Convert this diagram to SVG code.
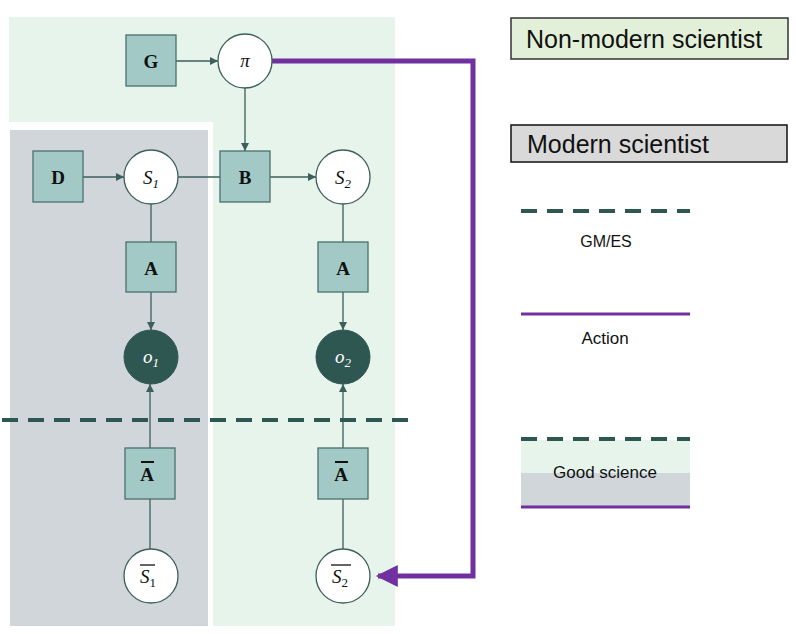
<svg xmlns="http://www.w3.org/2000/svg" width="796" height="634" viewBox="0 0 796 634">
<defs>
<style>
.sq{fill:#a3c9c7;stroke:#4a706c;stroke-width:1.3}
.ci{fill:#fff;stroke:#3d5f5b;stroke-width:1.3}
.ob{fill:#2f5752;stroke:#2f5752}
.ed{stroke:#3d5f5b;stroke-width:1.3;fill:none}
.bl{font-family:"Liberation Serif",serif;font-weight:bold;font-size:19px;text-anchor:middle;fill:#111}
.it{font-family:"Liberation Serif",serif;font-style:italic;font-size:19px;text-anchor:middle;fill:#111}
.lg{font-family:"Liberation Sans",Arial,sans-serif;fill:#111}
.ds{stroke:#2f5752;stroke-width:4;stroke-dasharray:16 10;fill:none}
</style>
<marker id="ar" viewBox="0 0 10 10" refX="10" refY="5" markerWidth="8" markerHeight="8" markerUnits="userSpaceOnUse" orient="auto"><path d="M0,0L10,5L0,10z" fill="#3d5f5b"/></marker>
<marker id="pa" viewBox="0 0 10 10" refX="9" refY="5" markerWidth="6" markerHeight="4.4" orient="auto"><path d="M0,0L10,5L0,10z" fill="#7030a0"/></marker>
</defs>
<g id="backgrounds">
<rect x="9" y="17" width="386" height="609" fill="#e6f4ec"/>
<rect x="9" y="122" width="204" height="504" fill="#fff"/>
<rect x="10" y="130" width="198" height="496" fill="#d1d6da"/>
</g>
<g id="connectors">
<line class="ed" x1="176" y1="61" x2="218" y2="61" marker-end="url(#ar)"/>
<line class="ed" x1="245" y1="88" x2="245" y2="151" marker-end="url(#ar)"/>
<line class="ed" x1="83" y1="177" x2="124" y2="177" marker-end="url(#ar)"/>
<line class="ed" x1="178" y1="177" x2="220" y2="177"/>
<line class="ed" x1="270" y1="177" x2="316" y2="177" marker-end="url(#ar)"/>
<line class="ed" x1="151" y1="204" x2="151" y2="242"/>
<line class="ed" x1="151" y1="292" x2="151" y2="330" marker-end="url(#ar)"/>
<line class="ed" x1="343" y1="204" x2="343" y2="242"/>
<line class="ed" x1="343" y1="292" x2="343" y2="330" marker-end="url(#ar)"/>
<line class="ed" x1="150" y1="448" x2="150" y2="384" marker-end="url(#ar)"/>
<line class="ed" x1="150" y1="499" x2="150" y2="549"/>
<line class="ed" x1="343" y1="448" x2="343" y2="384" marker-end="url(#ar)"/>
<line class="ed" x1="343" y1="499" x2="343" y2="549"/>
<line class="ds" x1="2" y1="420" x2="415" y2="420"/>
<polyline points="272,61 473,61 473,576 378,576" fill="none" stroke="#7030a0" stroke-width="5" marker-end="url(#pa)"/>
</g>
<g id="G"><rect class="sq" x="126" y="35" width="50" height="51"/><text class="bl" x="151" y="68">G</text></g>
<g id="pi"><circle class="ci" cx="245" cy="61" r="27"/><text class="it" x="245" y="67">π</text></g>
<g id="D"><rect class="sq" x="33" y="151" width="50" height="51"/><text class="bl" x="58" y="184">D</text></g>
<g id="S1"><circle class="ci" cx="151" cy="177" r="27"/><text class="it" x="151" y="184">S<tspan font-size="13" dy="4">1</tspan></text></g>
<g id="B"><rect class="sq" x="220" y="151" width="50" height="51"/><text class="bl" x="245" y="184">B</text></g>
<g id="S2"><circle class="ci" cx="343" cy="177" r="27"/><text class="it" x="343" y="184">S<tspan font-size="13" dy="4">2</tspan></text></g>
<g id="A1"><rect class="sq" x="126" y="242" width="50" height="50"/><text class="bl" x="151" y="275">A</text></g>
<g id="A2"><rect class="sq" x="318" y="242" width="50" height="50"/><text class="bl" x="343" y="275">A</text></g>
<g id="o1"><circle class="ob" cx="151" cy="357" r="27"/><text class="it" x="151" y="363" fill="#fff" style="fill:#fff">o<tspan font-size="13" dy="4">1</tspan></text></g>
<g id="o2"><circle class="ob" cx="343" cy="357" r="27"/><text class="it" x="343" y="363" style="fill:#fff">o<tspan font-size="13" dy="4">2</tspan></text></g>
<g id="Abar1"><rect class="sq" x="125" y="448" width="50" height="51"/><text class="bl" x="147" y="481">A</text><line x1="141" y1="462" x2="154" y2="462" stroke="#111" stroke-width="2"/></g>
<g id="Abar2"><rect class="sq" x="318" y="448" width="50" height="51"/><text class="bl" x="341" y="481">A</text><line x1="335" y1="462" x2="348" y2="462" stroke="#111" stroke-width="2"/></g>
<g id="Sbar1"><circle class="ci" cx="151" cy="576" r="27"/><text class="it" x="148" y="583">S<tspan font-size="13" dy="4" font-style="normal">1</tspan></text><line x1="140" y1="565" x2="155" y2="565" stroke="#111" stroke-width="1.3"/></g>
<g id="Sbar2"><circle class="ci" cx="343" cy="576" r="27"/><text class="it" x="340" y="583">S<tspan font-size="13" dy="4" font-style="normal">2</tspan></text><line x1="331" y1="565" x2="351" y2="565" stroke="#111" stroke-width="1.3"/></g>
<g id="legend">
<rect x="511" y="18" width="277" height="41" fill="#e2f0d9" stroke="#333" stroke-width="1.5"/>
<text class="lg" x="526" y="48" font-size="25">Non-modern scientist</text>
<rect x="511" y="125" width="276" height="37" fill="#d9d9d9" stroke="#111" stroke-width="1.5"/>
<text class="lg" x="527" y="153" font-size="25">Modern scientist</text>
<line class="ds" x1="521" y1="211" x2="690" y2="211"/>
<text class="lg" x="606" y="247" font-size="16" text-anchor="middle">GM/ES</text>
<line x1="521" y1="314" x2="690" y2="314" stroke="#7030a0" stroke-width="3"/>
<text class="lg" x="605" y="344" font-size="17" text-anchor="middle">Action</text>
<rect x="521" y="440" width="169" height="33" fill="#e6f4ec"/>
<rect x="521" y="473" width="169" height="33" fill="#d1d6da"/>
<line class="ds" x1="521" y1="439" x2="690" y2="439"/>
<line x1="521" y1="507" x2="690" y2="507" stroke="#7030a0" stroke-width="3"/>
<text class="lg" x="605" y="478" font-size="17" text-anchor="middle">Good science</text>
</g>
</svg>
